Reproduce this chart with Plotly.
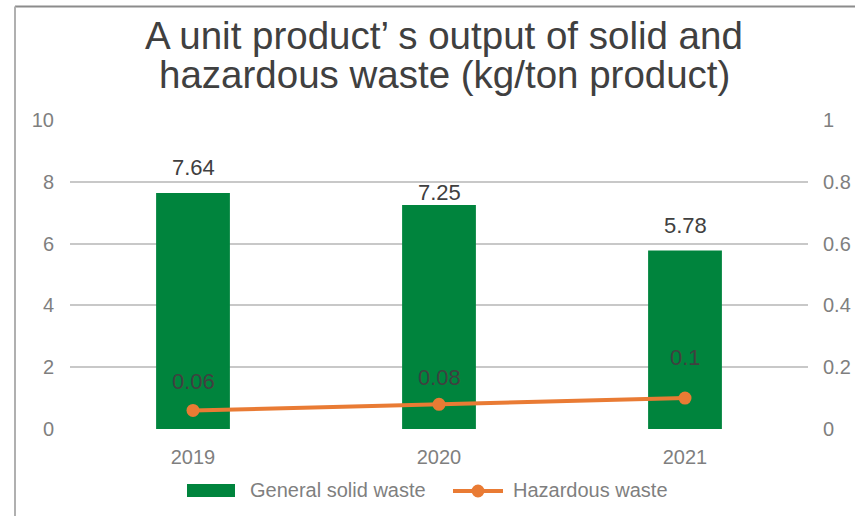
import plotly.graph_objects as go

# Waste output per ton of product
years = ["2019", "2020", "2021"]
solid_waste = [7.64, 7.25, 5.78]
hazardous_waste = [0.06, 0.08, 0.1]
solid_labels = ["7.64", "7.25", "5.78"]
hazardous_labels = ["0.06", "0.08", "0.1"]
left_ticks = [0, 2, 4, 6, 8, 10]
right_ticks = [0, 0.2, 0.4, 0.6, 0.8, 1]
right_tick_text = ["0", "0.2", "0.4", "0.6", "0.8", "1"]
title_lines = ["A unit product’ s output of solid and", "hazardous waste (kg/ton product)"]
legend_names = ["General solid waste", "Hazardous waste"]

# pixel offsets of the value labels above their marks
solid_label_shift = [25, 12, 25]
hazardous_label_shift = [29, 27, 41]

GREEN = "#00843D"
ORANGE = "#E97B34"
FONT = "Liberation Sans, Arial, sans-serif"
TICK = dict(family=FONT, size=20, color="#7f7f7f")
VALUE = dict(family=FONT, size=22, color="#404040")

W, H = 855, 516
L, R, T, B = 70, 47, 120, 87
pw, ph = W - L - R, H - T - B


def px_x(x):
    return (x - L) / pw


def px_y(y):
    return (H - B - y) / ph


fig = go.Figure()
fig.add_trace(go.Bar(
    x=years, y=solid_waste, name=legend_names[0],
    marker=dict(color=GREEN, line=dict(width=0)),
    hoverinfo="skip", showlegend=False,
))
fig.add_trace(go.Scatter(
    x=years, y=hazardous_waste, name=legend_names[1], yaxis="y2",
    mode="lines+markers",
    line=dict(color=ORANGE, width=4),
    marker=dict(color=ORANGE, size=13),
    hoverinfo="skip", showlegend=False,
))

annotations = []
# value labels (category axis positions by index, since year strings read as numbers)
for i, (v, t, s) in enumerate(zip(solid_waste, solid_labels, solid_label_shift)):
    annotations.append(dict(x=i, y=v, xref="x", yref="y", text=t, showarrow=False,
                            yshift=s, font=VALUE))
for i, (v, t, s) in enumerate(zip(hazardous_waste, hazardous_labels, hazardous_label_shift)):
    annotations.append(dict(x=i, y=v, xref="x", yref="y2", text=t, showarrow=False,
                            yshift=s, font=VALUE))

# two-line title
for text, yc in zip(title_lines, [35, 74]):
    annotations.append(dict(x=px_x(444), y=px_y(yc), xref="paper", yref="paper",
                            text=text, showarrow=False, xanchor="center", yanchor="middle",
                            font=dict(family=FONT, size=38.5, color="#404040")))

# legend entries
annotations.append(dict(x=px_x(248), y=px_y(490), xref="paper", yref="paper",
                        text=legend_names[0], showarrow=False, xanchor="left",
                        yanchor="middle", font=TICK))
annotations.append(dict(x=px_x(511), y=px_y(490), xref="paper", yref="paper",
                        text=legend_names[1], showarrow=False, xanchor="left",
                        yanchor="middle", font=TICK))

fx = px_x(15)
fy = px_y(6.5)
shapes = [
    # frame lines along the top and left edges
    dict(type="line", xref="paper", yref="paper", x0=fx, x1=px_x(W), y0=fy, y1=fy,
         line=dict(color="#8c8c8c", width=2)),
    dict(type="line", xref="paper", yref="paper", x0=fx, x1=fx, y0=fy, y1=px_y(H),
         line=dict(color="#b0b0b0", width=2)),
    # legend keys
    dict(type="rect", xref="paper", yref="paper", x0=px_x(187), x1=px_x(235),
         y0=px_y(484), y1=px_y(497), fillcolor=GREEN, line=dict(width=0)),
    dict(type="line", xref="paper", yref="paper", x0=px_x(453), x1=px_x(503),
         y0=px_y(491), y1=px_y(491), line=dict(color=ORANGE, width=4)),
    dict(type="circle", xref="paper", yref="paper", x0=px_x(471.5), x1=px_x(484.5),
         y0=px_y(484.5), y1=px_y(497.5), fillcolor=ORANGE, line=dict(width=0)),
]

fig.update_layout(
    width=W, height=H,
    margin=dict(l=L, r=R, t=T, b=B),
    paper_bgcolor="white", plot_bgcolor="white",
    font=dict(family=FONT, color="#7f7f7f", size=20),
    bargap=0.7,
    showlegend=False,
    xaxis=dict(type="category", range=[-0.5, len(years) - 0.5], showgrid=False,
               showline=False, zeroline=False, ticks="", automargin=False,
               ticklabelstandoff=14, tickfont=TICK),
    yaxis=dict(range=[0, 10], tickvals=left_ticks, showgrid=True, gridcolor="#c8c8c8",
               gridwidth=1.5, zeroline=False, showline=False, ticks="", automargin=False,
               ticklabelstandoff=15, tickfont=TICK),
    yaxis2=dict(range=[0, 1], overlaying="y", side="right", tickvals=right_ticks,
                ticktext=right_tick_text, showgrid=False, zeroline=False, showline=False,
                ticks="", automargin=False, ticklabelstandoff=14, tickfont=TICK),
    annotations=annotations,
    shapes=shapes,
)

fig.write_html("out.html")
